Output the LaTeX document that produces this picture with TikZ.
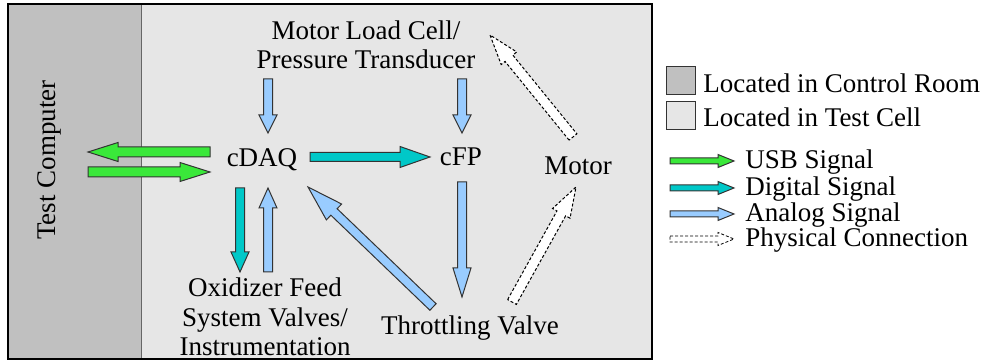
\documentclass[tikz,border=0pt]{standalone}
\usepackage{fontspec}
\setmainfont{Liberation Serif}
\usetikzlibrary{calc,positioning}

\definecolor{roomgray}{HTML}{C0C0C0}
\definecolor{cellgray}{HTML}{E6E6E6}
\definecolor{usbgreen}{HTML}{3AE83A}
\definecolor{digteal}{HTML}{00C8C8}
\definecolor{anablue}{HTML}{99CCFF}

\tikzset{shaft/.store in=\shaftw, head/.store in=\headw, headlen/.store in=\headl,
  shaft=2.25pt, head=4.5pt, headlen=10pt}

% fat arrow: [style]{from}{to}
\newcommand{\blockarrow}[3][]{%
  \draw[#1] let \p1=($(#3)-(#2)$), \n1={atan2(\y1,\x1)}, \n2={veclen(\x1,\y1)} in
    ($(#2)+(\n1+90:\shaftw)$) -- ++(\n1:{\n2-\headl}) -- ++(\n1+90:{\headw-\shaftw}) -- (#3)
    -- ($(#2)+(\n1:{\n2-\headl})+(\n1-90:\headw)$) -- ++(\n1+90:{\headw-\shaftw})
    -- ($(#2)+(\n1-90:\shaftw)$) -- cycle;}

\begin{document}
\begin{tikzpicture}[x=0.5pt,y=-0.5pt,font=\fontsize{13.5}{14.7}\selectfont]
\tikzstyle{lbl}=[inner sep=0pt, align=center]
\tikzstyle{usb}=[draw=black!80, line width=0.5pt, fill=usbgreen, shaft=2.5pt, head=4.75pt, headlen=15pt]
\tikzstyle{digital}=[draw=black!80, line width=0.5pt, fill=digteal]
\tikzstyle{analog}=[draw=black!80, line width=0.5pt, fill=anablue]
\tikzstyle{physical}=[draw=black, line width=0.5pt, dash pattern=on 1.5pt off 1pt, fill=white, shaft=2.5pt, head=5pt, headlen=15pt]
\tikzstyle{key}=[shaft=1.5pt, head=3.25pt, headlen=8pt]
\tikzstyle{swatch}=[draw=black!80, line width=0.5pt, minimum width=14.5pt, minimum height=14pt, inner sep=0pt]
\useasboundingbox (0,0) rectangle (982,362);
% room and cell
\fill[roomgray] (8,4) rectangle (141,359);
\fill[cellgray] (141,4) rectangle (652,359);
\draw[black!60, line width=0.5pt] (141,4) -- (141,359);
\draw[line width=0.75pt] (8,4) rectangle (652,359);

  \node[lbl, rotate=90] (tc) at (49,160) {Test Computer};
  \node[lbl] (mlc) at (366,45) {Motor Load Cell/\\Pressure Transducer};
  \node[lbl] (cdaq) at (262,160) {cDAQ};
  \node[lbl] (cfp) at (461,157) {cFP};
  \node[lbl] (motor) at (578,166) {Motor};
  \node[lbl] (oxi) at (265,317) {Oxidizer Feed\\System Valves/\\Instrumentation};
  \node[lbl] (tv) at (470,328) {Throttling Valve};

\blockarrow[usb]{[shift={(-52,-8)}]cdaq.center}{[shift={(39,-8)}]tc.center}
\blockarrow[usb]{[shift={(39,12)}]tc.center}{[shift={(-52,12)}]cdaq.center}
\blockarrow[digital, head=5.25pt, headlen=15pt]{[shift={(48,-3)}]cdaq.center}{[shift={(-31,0)}]cfp.center}
\blockarrow[analog, headlen=9pt]{[shift={(-98,34)}]mlc.center}{[shift={(6,-27)}]cdaq.center}
\blockarrow[analog, headlen=9pt]{[shift={(96,34)}]mlc.center}{[shift={(1,-24)}]cfp.center}
\blockarrow[digital, headlen=10pt]{[shift={(-22,28)}]cdaq.center}{[shift={(-25,-45)}]oxi.center}
\blockarrow[analog, headlen=10pt]{[shift={(3,-45)}]oxi.center}{[shift={(6,28)}]cdaq.center}
\blockarrow[analog, headlen=14.5pt]{[shift={(1,25)}]cfp.center}{[shift={(-8,-31)}]tv.center}
\blockarrow[analog, head=5.5pt, headlen=18pt]{[shift={(-37,-21)}]tv.center}{[shift={(46,27)}]cdaq.center}
\blockarrow[physical]{[shift={(-5,-29)}]motor.center}{[shift={(124,-10)}]mlc.center}
\blockarrow[physical]{[shift={(42,-26)}]tv.center}{[shift={(-2,21)}]motor.center}

% legend
\node[swatch, fill=roomgray] (kroom) at (680.5,81) {};
\node[swatch, fill=cellgray] (kcell) at (680.5,116) {};
\node[lbl, anchor=base west] (troom) at (703,93) {Located in Control Room};
\node[lbl, anchor=base west] (tcell) at (703,127) {Located in Test Cell};
\node[lbl, anchor=base west] (kusb) at (745,169) {USB Signal};
\node[lbl, anchor=base west] (kdig) at (745,196) {Digital Signal};
\node[lbl, anchor=base west] (kana) at (745,222) {Analog Signal};
\node[lbl, anchor=base west] (kphy) at (745,247) {Physical Connection};
\blockarrow[usb, key]{[shift={(-75,-8)}]kusb.base west}{[shift={(-11,-8)}]kusb.base west}
\blockarrow[digital, key]{[shift={(-75,-8)}]kdig.base west}{[shift={(-11,-8)}]kdig.base west}
\blockarrow[analog, key]{[shift={(-75,-8)}]kana.base west}{[shift={(-11,-8)}]kana.base west}
\blockarrow[physical, key, line width=0.4pt]{[shift={(-75,-8)}]kphy.base west}{[shift={(-11,-8)}]kphy.base west}
\end{tikzpicture}
\end{document}
